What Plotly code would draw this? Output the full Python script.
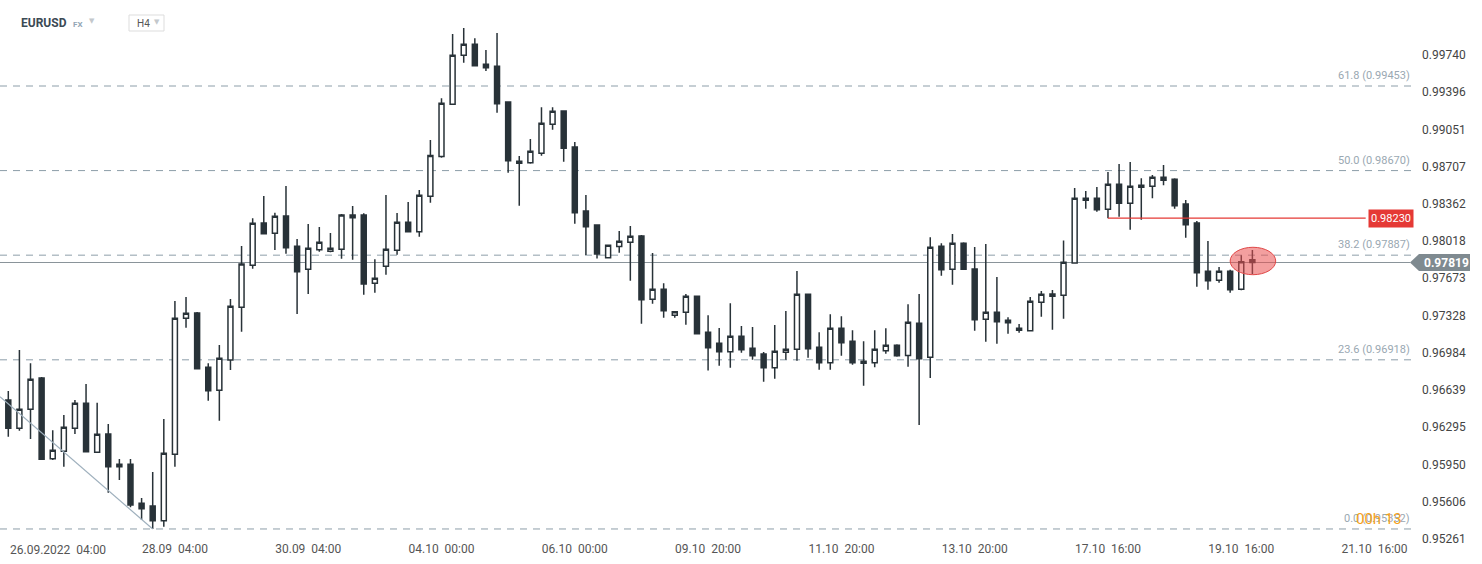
import plotly.graph_objects as go

# ---------------- data (EURUSD, H4) ----------------
opens = [0.96546, 0.96284, 0.96460, 0.96750, 0.96003, 0.96071, 0.96284, 0.96515, 0.96062, 0.96231,
         0.95929, 0.95951, 0.95590, 0.95565, 0.95428, 0.96043, 0.97302, 0.97351, 0.96849, 0.96636,
         0.96916, 0.97404, 0.97793, 0.98185, 0.98089, 0.98250, 0.97969, 0.97756, 0.97937, 0.97923,
         0.97941, 0.98259, 0.98259, 0.97626, 0.97784, 0.97932, 0.98192, 0.98104, 0.98432, 0.98801,
         0.99284, 0.99737, 0.99839, 0.99654, 0.99635, 0.99305, 0.98737, 0.98743, 0.98830, 0.99098,
         0.99222, 0.98888, 0.98296, 0.98166, 0.97863, 0.97967, 0.98006, 0.98064, 0.97478, 0.97571,
         0.97330, 0.97358, 0.97506, 0.97173, 0.97071, 0.96993, 0.97136, 0.97025, 0.96972, 0.96845,
         0.96988, 0.97015, 0.97524, 0.97034, 0.96891, 0.97210, 0.97089, 0.96886, 0.96891, 0.97002,
         0.97052, 0.96958, 0.97256, 0.96941, 0.97969, 0.97756, 0.97997, 0.97759, 0.97293, 0.97358,
         0.97284, 0.97191, 0.97188, 0.97450, 0.97506, 0.97515, 0.97814, 0.98395, 0.98413, 0.98311,
         0.98543, 0.98367, 0.98515, 0.98524, 0.98608, 0.98589, 0.98361, 0.98185, 0.97737, 0.97654,
         0.97737, 0.97571, 0.97845]
highs = [0.96629, 0.97009, 0.96886, 0.96759, 0.96266, 0.96407, 0.96546, 0.96694, 0.96521, 0.96324,
         0.96000, 0.96000, 0.95639, 0.95879, 0.96370, 0.97463, 0.97500, 0.97361, 0.96886, 0.97055,
         0.97481, 0.97972, 0.98228, 0.98435, 0.98280, 0.98527, 0.98037, 0.98175, 0.98148, 0.98092,
         0.98268, 0.98342, 0.98274, 0.97849, 0.98444, 0.98277, 0.98379, 0.98490, 0.98953, 0.99339,
         0.99934, 0.99990, 0.99895, 0.99786, 0.99944, 0.99308, 0.98805, 0.98962, 0.99256, 0.99256,
         0.99225, 0.98935, 0.98444, 0.98169, 0.97981, 0.98111, 0.98157, 0.98074, 0.97907, 0.97626,
         0.97366, 0.97527, 0.97509, 0.97330, 0.97213, 0.97441, 0.97231, 0.97222, 0.96990, 0.97240,
         0.97370, 0.97740, 0.97527, 0.97173, 0.97339, 0.97321, 0.97191, 0.97089, 0.97191, 0.97210,
         0.97062, 0.97433, 0.97527, 0.98052, 0.97997, 0.98083, 0.98006, 0.97962, 0.97990, 0.97685,
         0.97312, 0.97250, 0.97500, 0.97555, 0.97564, 0.98022, 0.98509, 0.98481, 0.98518, 0.98657,
         0.98731, 0.98749, 0.98598, 0.98629, 0.98722, 0.98598, 0.98398, 0.98203, 0.98018, 0.97777,
         0.97752, 0.97886, 0.97935]
lows = [0.96206, 0.96262, 0.96185, 0.95991, 0.95991, 0.95929, 0.96231, 0.96065, 0.96060, 0.95688,
        0.95805, 0.95553, 0.95435, 0.95352, 0.95373, 0.95928, 0.97215, 0.96834, 0.96540, 0.96354,
        0.96824, 0.97178, 0.97761, 0.98083, 0.97935, 0.97900, 0.97342, 0.97527, 0.97919, 0.97913,
        0.97854, 0.97845, 0.97521, 0.97539, 0.97706, 0.97891, 0.98101, 0.98058, 0.98373, 0.98788,
        0.99280, 0.99669, 0.99638, 0.99592, 0.99206, 0.98650, 0.98345, 0.98734, 0.98808, 0.99048,
        0.98752, 0.98178, 0.97889, 0.97856, 0.97858, 0.97910, 0.97650, 0.97252, 0.97438, 0.97308,
        0.97308, 0.97243, 0.97157, 0.96818, 0.96862, 0.96845, 0.96984, 0.96919, 0.96716, 0.96743,
        0.96919, 0.96910, 0.96938, 0.96827, 0.96827, 0.96956, 0.96873, 0.96678, 0.96849, 0.96975,
        0.96947, 0.96854, 0.96314, 0.96750, 0.97697, 0.97613, 0.97754, 0.97188, 0.97086, 0.97067,
        0.97160, 0.97169, 0.97185, 0.97317, 0.97197, 0.97299, 0.97810, 0.98317, 0.98289, 0.98228,
        0.98243, 0.98123, 0.98215, 0.98413, 0.98534, 0.98317, 0.98049, 0.97595, 0.97567, 0.97632,
        0.97539, 0.97562, 0.97712]
closes = [0.96284, 0.96460, 0.96738, 0.95997, 0.96080, 0.96293, 0.96515, 0.96068, 0.96229, 0.95929,
          0.95951, 0.95574, 0.95540, 0.95428, 0.96053, 0.97302, 0.97349, 0.96836, 0.96632, 0.96932,
          0.97414, 0.97805, 0.98182, 0.98086, 0.98247, 0.97956, 0.97734, 0.97950, 0.98006, 0.97950,
          0.98259, 0.98234, 0.97621, 0.97673, 0.97941, 0.98192, 0.98104, 0.98441, 0.98810, 0.99293,
          0.99737, 0.99839, 0.99641, 0.99622, 0.99289, 0.98761, 0.98756, 0.98849, 0.99108, 0.99219,
          0.98876, 0.98280, 0.98150, 0.97898, 0.97978, 0.98016, 0.98062, 0.97475, 0.97571, 0.97373,
          0.97363, 0.97506, 0.97160, 0.97030, 0.96993, 0.97136, 0.97012, 0.96956, 0.96845, 0.96997,
          0.97015, 0.97524, 0.97021, 0.96891, 0.97210, 0.97076, 0.96891, 0.96904, 0.97015, 0.97052,
          0.96956, 0.97265, 0.96928, 0.97960, 0.97752, 0.97997, 0.97756, 0.97289, 0.97358, 0.97271,
          0.97262, 0.97210, 0.97460, 0.97524, 0.97527, 0.97821, 0.98413, 0.98413, 0.98308, 0.98543,
          0.98367, 0.98524, 0.98534, 0.98608, 0.98580, 0.98345, 0.98169, 0.97725, 0.97650, 0.97737,
          0.97567, 0.97826, 0.97819]

x_tick_index = [15, 27, 39, 51, 63, 75, 87, 99, 111, 123]
x_tick_text = ["28.09  04:00", "30.09  04:00", "04.10  00:00", "06.10  00:00", "09.10  20:00",
               "11.10  20:00", "13.10  20:00", "17.10  16:00", "19.10  16:00", "21.10  16:00"]
first_label = "26.09.2022  04:00"

y_ticks = [0.99740, 0.99396, 0.99051, 0.98707, 0.98362, 0.98018, 0.97673,
           0.97328, 0.96984, 0.96639, 0.96295, 0.95950, 0.95606, 0.95261]

fib_levels = [0.99453, 0.98670, 0.97887, 0.96918, 0.95352]
fib_names = ["61.8", "50.0", "38.2", "23.6", "0.0"]

current_price = 0.97819
marked_level = 0.98230
marked_from = 99
trend_start = (-0.747, 0.96576)
trend_end = (13, 0.95352)
circle_x = (110.0, 114.1)
circle_y = (0.97706, 0.97960)

# ---------------- figure ----------------
DARK = "#283238"
nbsp = lambda s: s.replace("  ", " \u00a0")

idx = list(range(len(opens)))
fig = go.Figure(go.Candlestick(
    x=idx, open=opens, high=highs, low=lows, close=closes,
    increasing=dict(fillcolor="#ffffff", line=dict(color=DARK, width=1.5)),
    decreasing=dict(fillcolor=DARK, line=dict(color=DARK, width=1.5)),
    whiskerwidth=0, hoverinfo="skip", showlegend=False,
))

shapes = []
annotations = []

# fibonacci levels
for lvl, name in zip(fib_levels, fib_names):
    shapes.append(dict(type="line", xref="paper", x0=0, x1=1, yref="y", y0=lvl, y1=lvl,
                       line=dict(color="#8d9ea9", width=1, dash="7px,6px"), layer="below"))
    annotations.append(dict(xref="paper", x=1, xshift=-1, xanchor="right", yref="y", y=lvl,
                            yanchor="bottom", yshift=2, showarrow=False,
                            text=f"{name} ({lvl:.5f})",
                            font=dict(size=11, color="#9aa8b2", family="Roboto")))

# trend line
shapes.append(dict(type="line", xref="x", yref="y", x0=trend_start[0], y0=trend_start[1],
                   x1=trend_end[0], y1=trend_end[1], line=dict(color="#9fb0bd", width=1.2)))

# current price line
shapes.append(dict(type="line", xref="paper", x0=0, x1=0.998, yref="y",
                   y0=current_price, y1=current_price, line=dict(color="#8a949a", width=1.2),
                   layer="below"))

# marked horizontal red level
shapes.append(dict(type="line", xref="x", x0=marked_from, x1=122.2, yref="y",
                   y0=marked_level, y1=marked_level, line=dict(color="#e53935", width=1.2)))
annotations.append(dict(xref="paper", x=1, xshift=1, xanchor="right", yref="y", y=marked_level,
                        yanchor="middle", showarrow=False, text=f"{marked_level:.5f}",
                        bgcolor="#e53935", borderpad=2,
                        font=dict(size=11, color="#ffffff", family="Roboto")))

# highlight ellipse
shapes.append(dict(type="circle", xref="x", yref="y", x0=circle_x[0], x1=circle_x[1],
                   y0=circle_y[0], y1=circle_y[1], fillcolor="rgba(233,80,80,0.55)",
                   line=dict(color="#e04848", width=1), layer="above"))

# current price tag
shapes.append(dict(type="path", xref="paper", xsizemode="pixel", xanchor=1,
                   yref="y", ysizemode="pixel", yanchor=current_price,
                   path="M -3,0 L 6,8.5 L 57,8.5 L 57,-8.5 L 6,-8.5 Z",
                   fillcolor="#7f8a90", line=dict(width=0)))
annotations.append(dict(xref="paper", x=1, xshift=9, xanchor="left", yref="y", y=current_price,
                        yanchor="middle", showarrow=False, text=f"<b>{current_price:.5f}</b>",
                        font=dict(size=12, color="#ffffff", family="Roboto")))

# first x label (clamped to left edge)
annotations.append(dict(xref="paper", x=0, xshift=8, xanchor="left", yref="paper", y=0,
                        yanchor="top", yshift=-1, showarrow=False, text=nbsp(first_label),
                        font=dict(size=12, color="#555555", family="Roboto")))

# header
annotations.append(dict(xref="paper", x=0, xshift=19, xanchor="left", yref="paper", y=1,
                        yanchor="middle", yshift=-5, showarrow=False, text="<b>EURUSD</b>",
                        font=dict(size=12, color="#3c4a54", family="Roboto")))
annotations.append(dict(xref="paper", x=0, xshift=71, xanchor="left", yref="paper", y=1,
                        yanchor="middle", yshift=-6, showarrow=False, text="<b>FX</b>",
                        font=dict(size=8, color="#93a6b5", family="Roboto")))
annotations.append(dict(xref="paper", x=0, xshift=87, xanchor="left", yref="paper", y=1,
                        yanchor="middle", yshift=-3, showarrow=False, text="▼",
                        font=dict(size=7, color="#c4c8cc", family="DejaVu Sans")))
shapes.append(dict(type="rect", xref="paper", xsizemode="pixel", xanchor=0, x0=129, x1=164,
                   yref="paper", ysizemode="pixel", yanchor=1, y0=3, y1=-13,
                   line=dict(color="#dddddd", width=1), fillcolor="#ffffff"))
annotations.append(dict(xref="paper", x=0, xshift=135, xanchor="left", yref="paper", y=1,
                        yanchor="middle", yshift=-5, showarrow=False, text="H4",
                        font=dict(size=10, color="#555555", family="Roboto")))
annotations.append(dict(xref="paper", x=0, xshift=152, xanchor="left", yref="paper", y=1,
                        yanchor="middle", yshift=-4, showarrow=False, text="▼",
                        font=dict(size=7, color="#c4c8cc", family="DejaVu Sans")))

# countdown
annotations.append(dict(xref="paper", x=0, xshift=1379, xanchor="center", yref="paper", y=0,
                        yanchor="middle", yshift=21, showarrow=False, text="00h 13",
                        font=dict(size=15, color="#f5a21b", family="Roboto")))

fig.update_layout(
    width=1482, height=564,
    margin=dict(l=0, r=69, t=18, b=24),
    paper_bgcolor="#ffffff", plot_bgcolor="#ffffff",
    font=dict(family="Roboto", size=12, color="#444444"),
    showlegend=False, boxgap=0.36,
    shapes=shapes, annotations=annotations,
    xaxis=dict(range=[-0.747, 126.46], showgrid=False, zeroline=False, showline=False,
               ticks="", tickvals=x_tick_index, ticktext=[nbsp(t) for t in x_tick_text],
               tickfont=dict(size=12, color="#555555"), rangeslider=dict(visible=False)),
    yaxis=dict(side="right", range=[0.952499, 1.000826], showgrid=False, zeroline=False,
               showline=False, ticks="", tickvals=y_ticks,
               ticktext=[f"{v:.5f}" for v in y_ticks], ticklabelstandoff=8,
               tickfont=dict(size=12, color="#444444")),
)

fig.write_html("out.html", config={"displayModeBar": False},
               post_script="document.body.style.margin='0';document.body.style.overflow='hidden';")
